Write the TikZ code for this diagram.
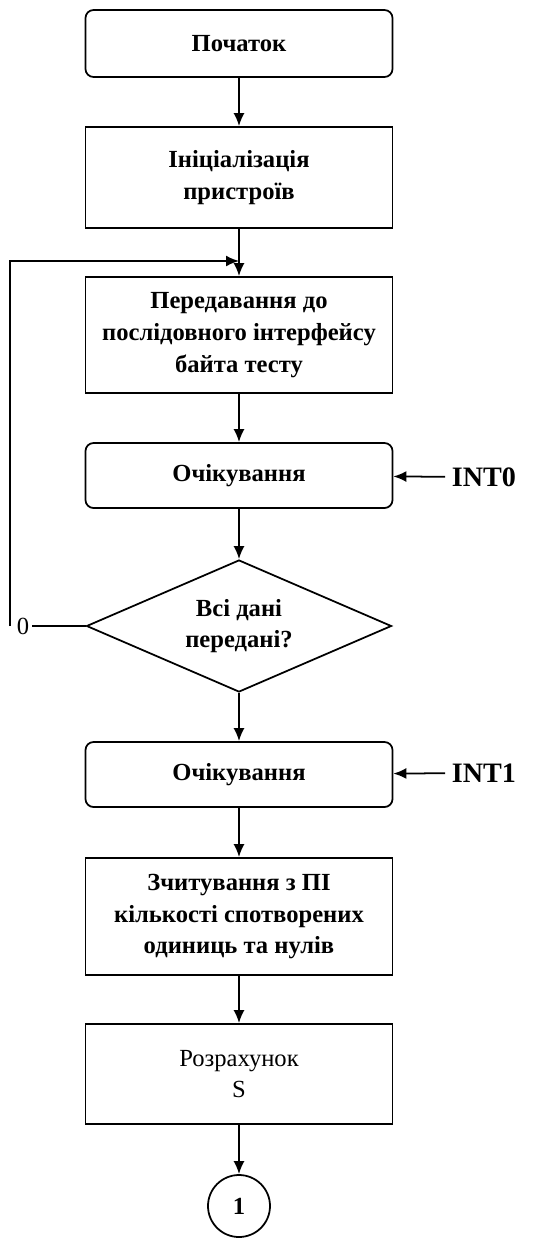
\documentclass[tikz,border=0pt]{standalone}
\usepackage{fontspec}
\setmainfont{Liberation Serif}
\usetikzlibrary{arrows.meta,shapes.geometric}

\begin{document}
\begin{tikzpicture}[font=\fontsize{14}{18}\selectfont\bfseries, >={Latex[length=2.6mm,width=2.2mm]},
  line width=1pt,
  blk/.style={rectangle,draw,minimum width=6.14cm,align=center,inner sep=2pt},
  rnd/.style={blk,rounded corners=1.6mm},
  dcs/.style={diamond,draw,minimum width=6.1cm,minimum height=2.64cm,aspect=2.3,align=center,inner sep=0pt},
  intr/.style={font=\fontsize{16}{18}\selectfont\bfseries}]
\useasboundingbox (0,0) rectangle (10.9,-24.76);
% --- blocks ---
  \node[rnd,minimum height=1.34cm] (start) at (4.78,-0.87) {Початок};
  \node[blk,minimum height=2.02cm] (init) at (4.78,-3.55) {Ініціалізація\\пристроїв};
  \coordinate (j) at (4.78,-5.22);
  \node[blk,minimum height=2.32cm] (send) at (4.78,-6.7) {Передавання до\\послідовного інтерфейсу\\байта тесту};
  \node[rnd,minimum height=1.3cm] (wait0) at (4.78,-9.51) {Очікування};
  \node[dcs] (dec) at (4.78,-12.52) {Всі дані\\передані?};
  \node[rnd,minimum height=1.3cm] (wait1) at (4.78,-15.49) {Очікування};
  \node[blk,minimum height=2.34cm] (read) at (4.78,-18.33) {Зчитування з ПІ\\кількості спотворених\\одиниць та нулів};
  \node[blk,minimum height=2.0cm,font=\fontsize{14}{18}\selectfont] (calc) at (4.78,-21.48) {Розрахунок\\S};
  \node[circle,draw,minimum size=1.24cm,inner sep=0pt] (con) at (4.78,-24.12) {1};
% --- interrupts ---
  \node[intr] (int0) at (9.68,-9.54) {INT0};
  \node[intr] (int1) at (9.68,-15.46) {INT1};
  \node[font=\fontsize{14}{18}\selectfont,inner sep=1pt] (zero) at (0.46,-12.52) {0};
  \coordinate (cnr) at (0.2,-12.52);
% --- connectors ---
  \draw[->] (start) -- (init);
  \draw (init) -- (j);
  \draw[->] (j) -- (send);
  \draw[->] (send) -- (wait0);
  \draw[->] (wait0) -- (dec);
  \draw[->] (dec) -- (wait1);
  \draw[->] (wait1) -- (read);
  \draw[->] (read) -- (calc);
  \draw[->] (calc) -- (con);
  \draw[->] (int0) -- (wait0);
  \draw[->] (int1) -- (wait1);
  \draw (dec.west) -- (zero.east);
  \draw[->] (cnr) |- (j);
\end{tikzpicture}
\end{document}
